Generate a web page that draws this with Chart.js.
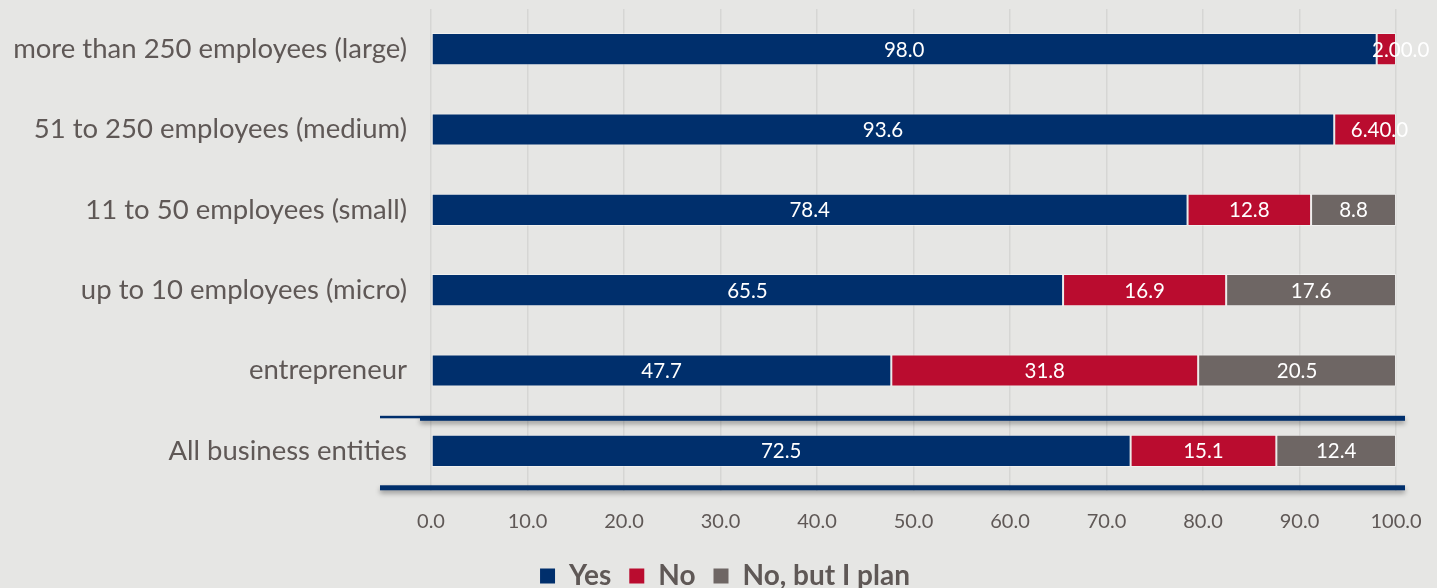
<!DOCTYPE html>
<html>
<head>
<meta charset="utf-8">
<script src="https://cdn.jsdelivr.net/npm/chart.js@4/dist/chart.umd.min.js"></script>
<style>
  html, body { margin: 0; padding: 0; background: #e6e6e4; overflow: hidden; }
  #wrap { width: 1437px; height: 588px; }
</style>
</head>
<body>
<div id="wrap"><canvas id="c"></canvas></div>
<script>
const categories = [
  'more than 250 employees (large)',
  '51 to 250 employees (medium)',
  '11 to 50 employees (small)',
  'up to 10 employees (micro)',
  'entrepreneur',
  'All business entities'
];
const yesValues = [98.0, 93.6, 78.4, 65.5, 47.7, 72.5];
const noValues = [2.0, 6.4, 12.8, 16.9, 31.8, 15.1];
const planValues = [0.0, 0.0, 8.8, 17.6, 20.5, 12.4];
const seriesNames = ['Yes', 'No', 'No, but I plan'];
const seriesColors = ['#002f6c', '#ba0c2f', '#6e6664'];

const FONT = 'Lato, "Open Sans", sans-serif';
const TEXT = '#5f5856';

const labelPlugin = {
  id: 'barLabels',
  afterDatasetsDraw(chart) {
    const ctx = chart.ctx;
    ctx.save();
    ctx.font = '20.5px ' + FONT;
    ctx.fillStyle = '#ffffff';
    ctx.textBaseline = 'middle';
    ctx.textAlign = 'left';
    const n = chart.data.labels.length;
    for (let i = 0; i < n; i++) {
      let prevRight = -Infinity;
      chart.data.datasets.forEach((ds, d) => {
        const el = chart.getDatasetMeta(d).data[i];
        const v = ds.data[i];
        const txt = v.toFixed(1);
        const w = ctx.measureText(txt).width;
        const cx = (el.x + el.base) / 2;
        let left = cx - w / 2;
        if (left < prevRight || (v === 0 && prevRight > -Infinity)) left = prevRight;
        ctx.fillText(txt, left, el.y + 1);
        prevRight = left + w;
      });
    }
    ctx.restore();
  }
};

const separatorPlugin = {
  id: 'separators',
  afterLayout(chart) {
    const lg = chart.legend;
    if (lg) { lg.left += 27; lg.right += 27; }
  },
  beforeDatasetsDraw(chart) {
    const ctx = chart.ctx;
    const y = chart.scales.y;
    const x = chart.scales.x;
    const last = categories.length - 1;
    const step = y.getPixelForValue(1) - y.getPixelForValue(0);
    const cy = y.getPixelForValue(last);
    const x0 = x.left - 51;
    const xb = x.left - 11;
    const x1 = x.right + 9;
    const yTop = cy - step * 0.405;
    const yBot = cy + step * 0.46;
    ctx.save();
    ctx.fillStyle = '#002f6c';
    ctx.fillRect(x0, yTop - 2.5, xb - x0, 2.5);
    ctx.shadowColor = 'rgba(0,0,0,0.35)';
    ctx.shadowBlur = 5;
    ctx.shadowOffsetY = 3;
    ctx.fillRect(xb, yTop - 2.5, x1 - xb, 5);
    ctx.fillRect(x0, yBot - 2.5, x1 - x0, 5);
    ctx.restore();
  }
};

const chart = new Chart(document.getElementById('c'), {
  type: 'bar',
  data: {
    labels: categories,
    datasets: [yesValues, noValues, planValues].map((vals, i) => ({
      label: seriesNames[i],
      data: vals,
      backgroundColor: seriesColors[i],
      borderColor: 'rgba(255,255,255,0.4)',
      borderWidth: 1,
      borderSkipped: false,
      barPercentage: 0.8,
      categoryPercentage: 0.5
    }))
  },
  options: {
    indexAxis: 'y',
    responsive: true,
    maintainAspectRatio: false,
    animation: false,
    layout: { padding: { top: 9, right: 41, left: 0, bottom: -12 } },
    scales: {
      x: {
        stacked: true,
        min: 0,
        max: 100,
        afterFit: s => { s.height = 53; s.paddingLeft = 0; s.paddingRight = 0; },
        ticks: {
          stepSize: 10,
          callback: v => v.toFixed(1),
          color: TEXT,
          font: { family: FONT, size: 20 },
          padding: 19
        },
        grid: { color: '#d6d6d4', lineWidth: 1.5, drawTicks: false },
        border: { display: false }
      },
      y: {
        stacked: true,
        afterFit: s => { s.width = 431; s.paddingTop = 0; s.paddingBottom = 0; },
        ticks: {
          color: TEXT,
          font: { family: FONT, size: 27.5 },
          padding: 24
        },
        grid: { display: false, drawTicks: false },
        border: { display: false }
      }
    },
    plugins: {
      legend: {
        position: 'bottom',
        labels: {
          color: TEXT,
          font: { family: FONT, size: 28, weight: 'bold' },
          boxWidth: 15,
          boxHeight: 15,
          padding: 18,
          useBorderRadius: false,
          generateLabels: ch => ch.data.datasets.map((ds, i) => ({
            text: ds.label,
            fillStyle: ds.backgroundColor,
            strokeStyle: ds.backgroundColor,
            lineWidth: 0,
            fontColor: TEXT,
            datasetIndex: i
          }))
        }
      },
      tooltip: { enabled: false }
    }
  },
  plugins: [separatorPlugin, labelPlugin]
});
</script>
</body>
</html>
